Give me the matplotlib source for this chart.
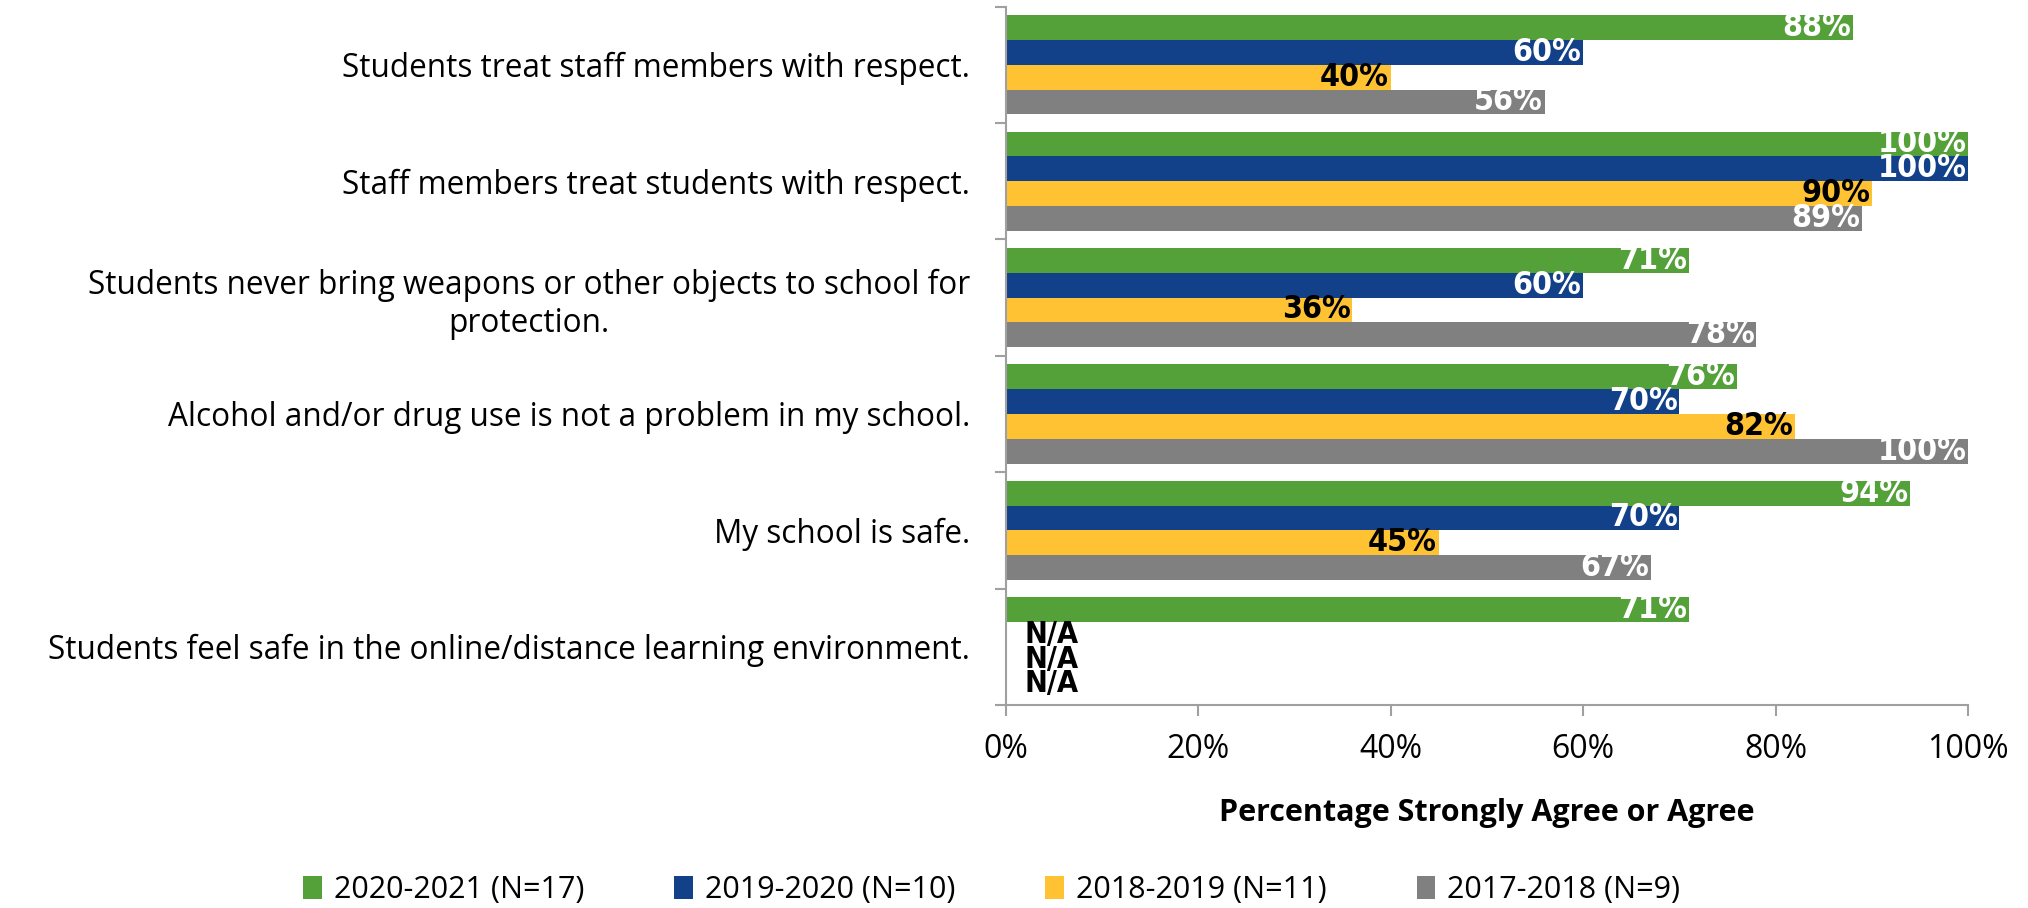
import matplotlib
matplotlib.use("Agg")
import matplotlib.pyplot as plt
from matplotlib.patches import Patch
import numpy as np

categories = [
    "Students treat staff members with respect.",
    "Staff members treat students with respect.",
    "Students never bring weapons or other objects to school for\nprotection.",
    "Alcohol and/or drug use is not a problem in my school.",
    "My school is safe.",
    "Students feel safe in the online/distance learning environment.",
]
series_names = ["2020-2021 (N=17)", "2019-2020 (N=10)", "2018-2019 (N=11)", "2017-2018 (N=9)"]
v2021 = [88, 100, 71, 76, 94, 71]
v2020 = [60, 100, 60, 70, 70, None]
v2019 = [40, 90, 36, 82, 45, None]
v2018 = [56, 89, 78, 100, 67, None]
colors = ["#54A13A", "#134189", "#FFC232", "#808080"]
label_colors = ["white", "white", "black", "white"]
xticks = [0, 20, 40, 60, 80, 100]

series = [v2021, v2020, v2019, v2018]

fig = plt.figure(figsize=(20.28, 9.08), dpi=100)
ax = fig.add_axes([0.496, 0.2236, 0.4745, 0.7692])

font_main = "Open Sans"
bar_h = 0.213
n = len(series)
y = np.arange(len(categories))
for i, (vals, c, lc) in enumerate(zip(series, colors, label_colors)):
    offs = (i - (n - 1) / 2) * bar_h
    for j, v in enumerate(vals):
        yy = y[j] + offs
        if v is None:
            ax.text(1.9, yy, "N/A", ha="left", va="center", fontsize=22,
                    fontweight="bold", fontstretch="condensed", family="DejaVu Sans", color="black")
            continue
        ax.barh(yy, v, height=bar_h, color=c, edgecolor="none")
        ax.text(v - 0.2, yy, f"{v}%", ha="right", va="center", fontsize=23,
                fontweight="bold", fontstretch="condensed", family="DejaVu Sans", color=lc)

ax.set_xlim(0, 100)
ax.set_ylim(len(categories) - 0.5, -0.5)
ax.set_xticks(xticks)
ax.set_xticklabels([f"{t}%" for t in xticks], fontsize=23, family=font_main)
ax.set_yticks(y)
ax.set_yticklabels(categories, fontsize=22.7, family=font_main, multialignment="center")
ax.set_yticks(np.arange(-0.5, len(categories)), minor=True)
ax.tick_params(axis="y", which="major", length=0, pad=26)
ax.tick_params(axis="y", which="minor", length=8, color="#A0A0A0", width=1.5)
ax.tick_params(axis="x", which="major", length=8, color="#A0A0A0", width=1.5, pad=12)
for s in ["top", "right"]:
    ax.spines[s].set_visible(False)
for s in ["left", "bottom"]:
    ax.spines[s].set_color("#A0A0A0")
    ax.spines[s].set_linewidth(1.5)

ax.set_xlabel("Percentage Strongly Agree or Agree", fontsize=22, fontweight="bold",
              family=font_main, labelpad=23)

handles = [Patch(facecolor=c, edgecolor="none") for c in colors]
fig.legend(handles, series_names, loc="center", bbox_to_anchor=(0.489, 0.02), ncol=4,
           frameon=False, prop={"family": font_main, "size": 22}, handlelength=0.6,
           handleheight=0.8, handletextpad=0.4, columnspacing=2.95)

fig.savefig("out.png", dpi=100, facecolor="white")
